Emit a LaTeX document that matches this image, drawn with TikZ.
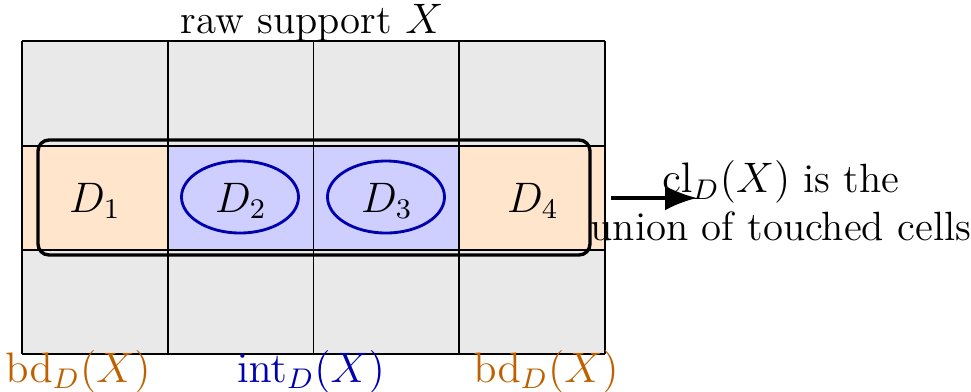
\documentclass[tikz,border=0pt]{standalone}
\usetikzlibrary{arrows.meta,shapes.geometric}
\definecolor{cellgray}{gray}{0.915}
\colorlet{bdcol}{orange!75!black}
\colorlet{intcol}{blue!68!black}
\tikzset{
  cell/.style={draw=black, line width=0.45pt},
  ring/.style={draw=intcol, line width=0.8pt, ellipse, minimum width=117*0.2814pt, minimum height=72*0.2814pt, inner sep=0pt},
  lbl/.style={inner sep=0pt, font=\fontsize{11.5}{13.4}\selectfont}
}
\begin{document}
\begin{tikzpicture}[x=0.2814pt, y=-0.2814pt]
\useasboundingbox (0,0) rectangle (971,391);
% gray cells
\foreach \c in {0,1,2,3} {
  \pgfmathsetmacro{\xa}{22+145.75*\c}
  \pgfmathsetmacro{\xb}{22+145.75*(\c+1)}
  \fill[cellgray] (\xa,41) rectangle (\xb,146);
  \fill[cellgray] (\xa,250) rectangle (\xb,354);
}
\fill[orange!20] (22,146) rectangle (167.75,250);
\fill[orange!20] (459.25,146) rectangle (605,250);
\fill[blue!19] (167.75,146) rectangle (459.25,250);
% grid lines
\foreach \x in {22,167.75,313.5,459.25,605} \draw[cell] (\x,41) -- (\x,354);
\foreach \y in {41,146,250,354} \draw[cell] (22,\y) -- (605,\y);
% closure box
\draw[line width=0.95pt, rounded corners=11*0.2814pt] (38,140) rectangle (590,255);
% labels
\node[lbl] (d1) at (95,201) {$D_1$};
\node[ring] (d2) at (240,197) {};
\node[ring] (d3) at (386,197) {};
\node[lbl] (t2) at (241,201) {$D_2$};
\node[lbl] (t3) at (387,201) {$D_3$};
\node[lbl] (d4) at (533,201) {$D_4$};
\node[lbl, anchor=base] (raw) at (312,33) {raw support $X$};
\coordinate (as) at (611,198);
\node[lbl, align=center, anchor=west] (cl) at (590,201) {$\mathrm{cl}_D(X)$ is the\\union of touched cells};
\coordinate (ae) at (697,198);
\draw[line width=1pt, -{Latex[length=9pt,width=7pt]}] (as) -- (ae);
\node[lbl, text=bdcol, anchor=base] (bd1) at (78,382) {$\mathrm{bd}_D(X)$};
\node[lbl, text=intcol, anchor=base] (int) at (311,382) {$\mathrm{int}_D(X)$};
\node[lbl, text=bdcol, anchor=base] (bd2) at (546,382) {$\mathrm{bd}_D(X)$};
\end{tikzpicture}
\end{document}
